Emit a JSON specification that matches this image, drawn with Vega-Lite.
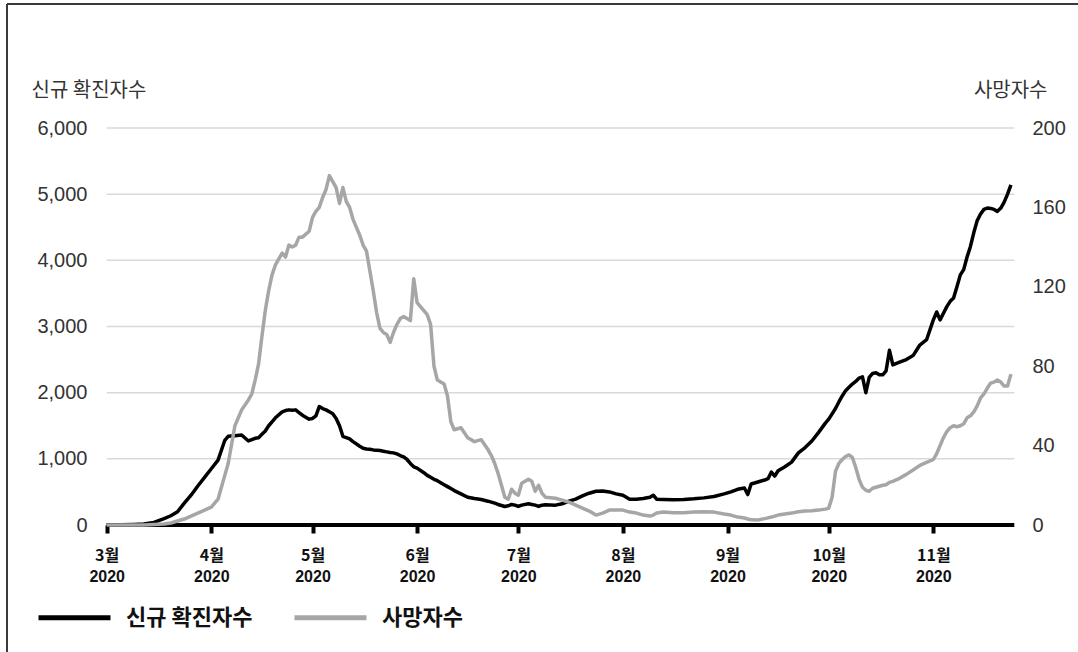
{
  "$schema": "https://vega.github.io/schema/vega-lite/v6.json",
  "width": 1071,
  "height": 648,
  "autosize": {"type": "none"},
  "padding": {"left": 7, "top": 4, "right": 0, "bottom": 0},
  "background": "white",
  "config": {"view": {"stroke": null}, "font": "Noto Sans CJK KR"},
  "datasets": {
    "grid": [{"g": 1000}, {"g": 2000}, {"g": 3000}, {"g": 4000}, {"g": 5000}, {"g": 6000}],
    "covid": [
      {"date": "2020-03-01", "cases": 0, "deaths": 0},
      {"date": "2020-03-05", "cases": 2, "deaths": 0},
      {"date": "2020-03-09", "cases": 8, "deaths": 0},
      {"date": "2020-03-12", "cases": 15, "deaths": 0},
      {"date": "2020-03-15", "cases": 40, "deaths": 0.3},
      {"date": "2020-03-18", "cases": 95, "deaths": 0.5},
      {"date": "2020-03-20", "cases": 140, "deaths": 1},
      {"date": "2020-03-22", "cases": 200, "deaths": 2},
      {"date": "2020-03-24", "cases": 330, "deaths": 3},
      {"date": "2020-03-26", "cases": 450, "deaths": 4.5},
      {"date": "2020-03-28", "cases": 590, "deaths": 6},
      {"date": "2020-03-30", "cases": 720, "deaths": 7.5},
      {"date": "2020-04-01", "cases": 850, "deaths": 9},
      {"date": "2020-04-03", "cases": 980, "deaths": 13},
      {"date": "2020-04-04", "cases": 1130, "deaths": 19},
      {"date": "2020-04-05", "cases": 1280, "deaths": 25},
      {"date": "2020-04-06", "cases": 1340, "deaths": 31},
      {"date": "2020-04-08", "cases": 1350, "deaths": 50},
      {"date": "2020-04-10", "cases": 1360, "deaths": 58},
      {"date": "2020-04-12", "cases": 1270, "deaths": 63},
      {"date": "2020-04-13", "cases": 1290, "deaths": 66},
      {"date": "2020-04-14", "cases": 1310, "deaths": 73},
      {"date": "2020-04-15", "cases": 1320, "deaths": 81},
      {"date": "2020-04-16", "cases": 1370, "deaths": 95},
      {"date": "2020-04-17", "cases": 1420, "deaths": 108},
      {"date": "2020-04-18", "cases": 1500, "deaths": 118},
      {"date": "2020-04-19", "cases": 1560, "deaths": 126},
      {"date": "2020-04-20", "cases": 1620, "deaths": 131},
      {"date": "2020-04-22", "cases": 1710, "deaths": 137},
      {"date": "2020-04-23", "cases": 1730, "deaths": 135},
      {"date": "2020-04-24", "cases": 1740, "deaths": 141},
      {"date": "2020-04-25", "cases": 1735, "deaths": 140},
      {"date": "2020-04-26", "cases": 1740, "deaths": 141},
      {"date": "2020-04-27", "cases": 1700, "deaths": 145},
      {"date": "2020-04-28", "cases": 1660, "deaths": 145},
      {"date": "2020-04-30", "cases": 1600, "deaths": 148},
      {"date": "2020-05-01", "cases": 1610, "deaths": 155},
      {"date": "2020-05-02", "cases": 1650, "deaths": 158},
      {"date": "2020-05-03", "cases": 1790, "deaths": 160},
      {"date": "2020-05-04", "cases": 1760, "deaths": 165},
      {"date": "2020-05-05", "cases": 1740, "deaths": 169},
      {"date": "2020-05-06", "cases": 1710, "deaths": 176},
      {"date": "2020-05-07", "cases": 1680, "deaths": 173},
      {"date": "2020-05-08", "cases": 1610, "deaths": 170},
      {"date": "2020-05-09", "cases": 1500, "deaths": 162},
      {"date": "2020-05-10", "cases": 1340, "deaths": 170},
      {"date": "2020-05-11", "cases": 1320, "deaths": 163},
      {"date": "2020-05-12", "cases": 1300, "deaths": 160},
      {"date": "2020-05-13", "cases": 1260, "deaths": 154},
      {"date": "2020-05-15", "cases": 1190, "deaths": 146},
      {"date": "2020-05-16", "cases": 1160, "deaths": 141},
      {"date": "2020-05-17", "cases": 1150, "deaths": 138},
      {"date": "2020-05-18", "cases": 1145, "deaths": 128},
      {"date": "2020-05-19", "cases": 1135, "deaths": 118},
      {"date": "2020-05-20", "cases": 1130, "deaths": 107},
      {"date": "2020-05-21", "cases": 1125, "deaths": 99},
      {"date": "2020-05-22", "cases": 1115, "deaths": 97},
      {"date": "2020-05-23", "cases": 1105, "deaths": 96},
      {"date": "2020-05-24", "cases": 1095, "deaths": 92},
      {"date": "2020-05-25", "cases": 1090, "deaths": 97},
      {"date": "2020-05-26", "cases": 1075, "deaths": 101},
      {"date": "2020-05-27", "cases": 1050, "deaths": 104},
      {"date": "2020-05-28", "cases": 1030, "deaths": 105},
      {"date": "2020-05-29", "cases": 990, "deaths": 104},
      {"date": "2020-05-30", "cases": 930, "deaths": 103},
      {"date": "2020-05-31", "cases": 880, "deaths": 124},
      {"date": "2020-06-01", "cases": 860, "deaths": 112},
      {"date": "2020-06-03", "cases": 790, "deaths": 108},
      {"date": "2020-06-04", "cases": 750, "deaths": 106},
      {"date": "2020-06-05", "cases": 720, "deaths": 101},
      {"date": "2020-06-06", "cases": 690, "deaths": 80},
      {"date": "2020-06-07", "cases": 670, "deaths": 73},
      {"date": "2020-06-09", "cases": 610, "deaths": 71},
      {"date": "2020-06-10", "cases": 580, "deaths": 65},
      {"date": "2020-06-11", "cases": 550, "deaths": 52},
      {"date": "2020-06-12", "cases": 520, "deaths": 48},
      {"date": "2020-06-14", "cases": 470, "deaths": 49},
      {"date": "2020-06-16", "cases": 420, "deaths": 44},
      {"date": "2020-06-18", "cases": 400, "deaths": 42},
      {"date": "2020-06-20", "cases": 385, "deaths": 43},
      {"date": "2020-06-22", "cases": 360, "deaths": 38},
      {"date": "2020-06-23", "cases": 345, "deaths": 35},
      {"date": "2020-06-24", "cases": 330, "deaths": 31},
      {"date": "2020-06-25", "cases": 310, "deaths": 26},
      {"date": "2020-06-26", "cases": 295, "deaths": 20},
      {"date": "2020-06-27", "cases": 280, "deaths": 14},
      {"date": "2020-06-28", "cases": 290, "deaths": 13},
      {"date": "2020-06-29", "cases": 310, "deaths": 18},
      {"date": "2020-06-30", "cases": 300, "deaths": 16},
      {"date": "2020-07-01", "cases": 280, "deaths": 15},
      {"date": "2020-07-02", "cases": 300, "deaths": 21},
      {"date": "2020-07-04", "cases": 320, "deaths": 23},
      {"date": "2020-07-05", "cases": 310, "deaths": 22},
      {"date": "2020-07-06", "cases": 300, "deaths": 17},
      {"date": "2020-07-07", "cases": 280, "deaths": 20},
      {"date": "2020-07-08", "cases": 300, "deaths": 16},
      {"date": "2020-07-09", "cases": 305, "deaths": 14},
      {"date": "2020-07-12", "cases": 300, "deaths": 13.5},
      {"date": "2020-07-14", "cases": 320, "deaths": 12.5},
      {"date": "2020-07-16", "cases": 360, "deaths": 11.5},
      {"date": "2020-07-18", "cases": 390, "deaths": 10},
      {"date": "2020-07-20", "cases": 440, "deaths": 8.5},
      {"date": "2020-07-22", "cases": 480, "deaths": 7},
      {"date": "2020-07-24", "cases": 510, "deaths": 5},
      {"date": "2020-07-26", "cases": 515, "deaths": 6},
      {"date": "2020-07-28", "cases": 500, "deaths": 7.5},
      {"date": "2020-07-30", "cases": 470, "deaths": 7.5},
      {"date": "2020-08-01", "cases": 450, "deaths": 7.5},
      {"date": "2020-08-03", "cases": 390, "deaths": 6.5},
      {"date": "2020-08-05", "cases": 390, "deaths": 6},
      {"date": "2020-08-07", "cases": 400, "deaths": 5},
      {"date": "2020-08-09", "cases": 420, "deaths": 4.5},
      {"date": "2020-08-10", "cases": 450, "deaths": 5},
      {"date": "2020-08-11", "cases": 390, "deaths": 6},
      {"date": "2020-08-13", "cases": 385, "deaths": 6.5},
      {"date": "2020-08-16", "cases": 380, "deaths": 6.2},
      {"date": "2020-08-19", "cases": 385, "deaths": 6.2},
      {"date": "2020-08-22", "cases": 395, "deaths": 6.5},
      {"date": "2020-08-25", "cases": 410, "deaths": 6.7},
      {"date": "2020-08-28", "cases": 430, "deaths": 6.5},
      {"date": "2020-08-31", "cases": 470, "deaths": 5.5},
      {"date": "2020-09-02", "cases": 500, "deaths": 5},
      {"date": "2020-09-04", "cases": 540, "deaths": 4},
      {"date": "2020-09-06", "cases": 560, "deaths": 3.5},
      {"date": "2020-09-07", "cases": 460, "deaths": 3},
      {"date": "2020-09-08", "cases": 620, "deaths": 2.6},
      {"date": "2020-09-10", "cases": 650, "deaths": 2.5},
      {"date": "2020-09-12", "cases": 680, "deaths": 3.2},
      {"date": "2020-09-13", "cases": 700, "deaths": 3.6},
      {"date": "2020-09-14", "cases": 800, "deaths": 4},
      {"date": "2020-09-15", "cases": 740, "deaths": 4.5},
      {"date": "2020-09-16", "cases": 820, "deaths": 5},
      {"date": "2020-09-18", "cases": 880, "deaths": 5.5},
      {"date": "2020-09-20", "cases": 950, "deaths": 6},
      {"date": "2020-09-22", "cases": 1090, "deaths": 6.7},
      {"date": "2020-09-24", "cases": 1170, "deaths": 7},
      {"date": "2020-09-26", "cases": 1270, "deaths": 7.2},
      {"date": "2020-09-28", "cases": 1400, "deaths": 7.5},
      {"date": "2020-09-30", "cases": 1540, "deaths": 8},
      {"date": "2020-10-01", "cases": 1600, "deaths": 8.5},
      {"date": "2020-10-02", "cases": 1680, "deaths": 14},
      {"date": "2020-10-03", "cases": 1760, "deaths": 27},
      {"date": "2020-10-04", "cases": 1860, "deaths": 31},
      {"date": "2020-10-05", "cases": 1950, "deaths": 33},
      {"date": "2020-10-06", "cases": 2030, "deaths": 34.5},
      {"date": "2020-10-07", "cases": 2080, "deaths": 35.3},
      {"date": "2020-10-08", "cases": 2130, "deaths": 34},
      {"date": "2020-10-09", "cases": 2170, "deaths": 29},
      {"date": "2020-10-10", "cases": 2220, "deaths": 23},
      {"date": "2020-10-11", "cases": 2240, "deaths": 19},
      {"date": "2020-10-12", "cases": 2000, "deaths": 17.5},
      {"date": "2020-10-13", "cases": 2230, "deaths": 17},
      {"date": "2020-10-14", "cases": 2290, "deaths": 18.5},
      {"date": "2020-10-15", "cases": 2300, "deaths": 19},
      {"date": "2020-10-16", "cases": 2270, "deaths": 19.5},
      {"date": "2020-10-17", "cases": 2270, "deaths": 20},
      {"date": "2020-10-18", "cases": 2330, "deaths": 20.3},
      {"date": "2020-10-19", "cases": 2640, "deaths": 21.5},
      {"date": "2020-10-20", "cases": 2420, "deaths": 22},
      {"date": "2020-10-22", "cases": 2460, "deaths": 23.5},
      {"date": "2020-10-24", "cases": 2500, "deaths": 25.5},
      {"date": "2020-10-26", "cases": 2560, "deaths": 27.7},
      {"date": "2020-10-28", "cases": 2720, "deaths": 30},
      {"date": "2020-10-30", "cases": 2800, "deaths": 31.5},
      {"date": "2020-11-01", "cases": 3100, "deaths": 33},
      {"date": "2020-11-02", "cases": 3220, "deaths": 36},
      {"date": "2020-11-03", "cases": 3100, "deaths": 40},
      {"date": "2020-11-04", "cases": 3200, "deaths": 44},
      {"date": "2020-11-05", "cases": 3300, "deaths": 47},
      {"date": "2020-11-06", "cases": 3380, "deaths": 49},
      {"date": "2020-11-07", "cases": 3430, "deaths": 50},
      {"date": "2020-11-08", "cases": 3600, "deaths": 49.5},
      {"date": "2020-11-09", "cases": 3780, "deaths": 50},
      {"date": "2020-11-10", "cases": 3860, "deaths": 51},
      {"date": "2020-11-11", "cases": 4050, "deaths": 54},
      {"date": "2020-11-12", "cases": 4210, "deaths": 55},
      {"date": "2020-11-13", "cases": 4420, "deaths": 57},
      {"date": "2020-11-14", "cases": 4600, "deaths": 60},
      {"date": "2020-11-15", "cases": 4700, "deaths": 64},
      {"date": "2020-11-16", "cases": 4770, "deaths": 66},
      {"date": "2020-11-17", "cases": 4790, "deaths": 69},
      {"date": "2020-11-18", "cases": 4785, "deaths": 71.5},
      {"date": "2020-11-19", "cases": 4770, "deaths": 72},
      {"date": "2020-11-20", "cases": 4740, "deaths": 73},
      {"date": "2020-11-21", "cases": 4790, "deaths": 72},
      {"date": "2020-11-22", "cases": 4880, "deaths": 70},
      {"date": "2020-11-23", "cases": 5000, "deaths": 70},
      {"date": "2020-11-24", "cases": 5140, "deaths": 76}
    ]
  },
  "layer": [
    {
      "data": {"name": "grid"},
      "mark": {"type": "rule", "color": "#d9d9d9", "strokeWidth": 1.5},
      "encoding": {
        "y": {"field": "g", "type": "quantitative", "scale": {"domain": [-1919.4, 7874.1], "nice": false, "zero": false}, "axis": null},
        "x": {"datum": {"year": 2020, "month": 3, "date": 1, "utc": true}, "type": "temporal", "axis": null},
        "x2": {"datum": {"year": 2020, "month": 11, "date": 25, "utc": true}}
      }
    },
    {
      "data": {"values": [{}]},
      "mark": {"type": "rule", "color": "#3a3a3a", "strokeWidth": 2},
      "encoding": {
        "x": {"datum": {"year": 2020, "month": 1, "date": 31, "hours": 10, "minutes": 48, "utc": true}, "type": "temporal", "axis": null}
      }
    },
    {
      "data": {"values": [{}]},
      "mark": {"type": "rule", "color": "#3a3a3a", "strokeWidth": 2},
      "encoding": {
        "y": {"datum": 7874.1, "type": "quantitative", "scale": {"domain": [-1919.4, 7874.1], "nice": false, "zero": false}, "axis": null}
      }
    },
    {
      "data": {"name": "covid"},
      "mark": {"type": "line", "strokeWidth": 3.5, "strokeJoin": "round"},
      "encoding": {
        "x": {
          "field": "date",
          "type": "temporal",
          "scale": {
            "type": "utc",
            "nice": false,
            "domain": [
              {"year": 2020, "month": 1, "date": 31, "hours": 10, "minutes": 48, "utc": true},
              {"year": 2020, "month": 12, "date": 13, "hours": 21, "minutes": 7, "utc": true}
            ]
          },
          "axis": {
            "orient": "bottom",
            "values": [1583020800000, 1585699200000, 1588291200000, 1590969600000, 1593561600000, 1596240000000, 1598918400000, 1601510400000, 1604188800000],
            "labelExpr": "(utcmonth(datum.value) + 1) + '월'",
            "domain": false,
            "grid": false,
            "ticks": true,
            "tickSize": 8,
            "tickWidth": 4,
            "tickColor": "#000000",
            "offset": -127,
            "labelFont": "Noto Sans CJK KR",
            "labelFontWeight": "bold",
            "labelFontSize": 16,
            "labelColor": "#111111",
            "labelPadding": 14,
            "labelOverlap": false,
            "labelFlush": false,
            "title": null
          }
        },
        "y": {
          "field": "cases",
          "type": "quantitative",
          "scale": {"domain": [-1919.4, 7874.1], "nice": false, "zero": false},
          "axis": {
            "orient": "left",
            "values": [0, 1000, 2000, 3000, 4000, 5000, 6000],
            "format": ",d",
            "domain": false,
            "grid": false,
            "ticks": false,
            "tickSize": 0,
            "offset": -80,
            "labelPadding": 0,
            "labelFont": "Liberation Sans",
            "labelFontSize": 20,
            "labelColor": "#333333",
            "title": "신규 확진자수",
            "titleAngle": 0,
            "titleAlign": "left",
            "titleBaseline": "middle",
            "titleX": -56,
            "titleY": 86,
            "titleFont": "Noto Sans CJK KR",
            "titleFontSize": 20,
            "titleFontWeight": "normal",
            "titleColor": "#333333"
          }
        },
        "color": {
          "datum": "신규 확진자수",
          "type": "nominal",
          "scale": {"domain": ["신규 확진자수", "사망자수"], "range": ["#000000", "#a6a6a6"]},
          "legend": {
            "orient": "none",
            "legendX": 29,
            "legendY": 575,
            "direction": "horizontal",
            "title": null,
            "symbolType": "stroke",
            "symbolSize": 5184,
            "symbolStrokeWidth": 5,
            "labelFont": "Noto Sans CJK KR",
            "labelFontSize": 22,
            "labelFontWeight": "bold",
            "labelColor": "#111111",
            "labelOffset": 13,
            "columnPadding": 31,
            "padding": 0
          }
        }
      }
    },
    {
      "data": {"values": [{}]},
      "mark": {"type": "rule", "color": "#000000", "strokeWidth": 4},
      "encoding": {
        "y": {"datum": 0, "type": "quantitative", "scale": {"domain": [-1919.4, 7874.1], "nice": false, "zero": false}, "axis": null},
        "x": {"datum": {"year": 2020, "month": 3, "date": 1, "utc": true}, "type": "temporal", "axis": null},
        "x2": {"datum": {"year": 2020, "month": 11, "date": 25, "utc": true}}
      }
    },
    {
      "data": {"name": "covid"},
      "mark": {"type": "line", "strokeWidth": 3.5, "strokeJoin": "round"},
      "encoding": {
        "x": {
          "field": "date",
          "type": "temporal",
          "axis": {
            "orient": "bottom",
            "values": [1583020800000, 1585699200000, 1588291200000, 1590969600000, 1593561600000, 1596240000000, 1598918400000, 1601510400000, 1604188800000],
            "labelExpr": "'' + utcyear(datum.value)",
            "domain": false,
            "grid": false,
            "ticks": false,
            "tickSize": 0,
            "offset": -127,
            "labelFont": "Liberation Sans",
            "labelFontWeight": "bold",
            "labelFontSize": 16,
            "labelColor": "#111111",
            "labelPadding": 43,
            "labelOverlap": false,
            "labelFlush": false,
            "title": null
          }
        },
        "y": {
          "field": "deaths",
          "type": "quantitative",
          "scale": {"domain": [-63.98, 262.47], "nice": false, "zero": false},
          "axis": {
            "orient": "right",
            "values": [0, 40, 80, 120, 160, 200],
            "domain": false,
            "grid": false,
            "ticks": false,
            "tickSize": 0,
            "offset": -46,
            "labelPadding": 0,
            "labelFont": "Liberation Sans",
            "labelFontSize": 20,
            "labelColor": "#333333",
            "title": "사망자수",
            "titleAngle": 0,
            "titleAlign": "right",
            "titleBaseline": "middle",
            "titleX": 15,
            "titleY": 86,
            "titleFont": "Noto Sans CJK KR",
            "titleFontSize": 20,
            "titleFontWeight": "normal",
            "titleColor": "#333333"
          }
        },
        "color": {"datum": "사망자수", "type": "nominal"}
      }
    }
  ],
  "resolve": {"scale": {"y": "independent"}, "axis": {"y": "independent", "x": "independent"}}
}
